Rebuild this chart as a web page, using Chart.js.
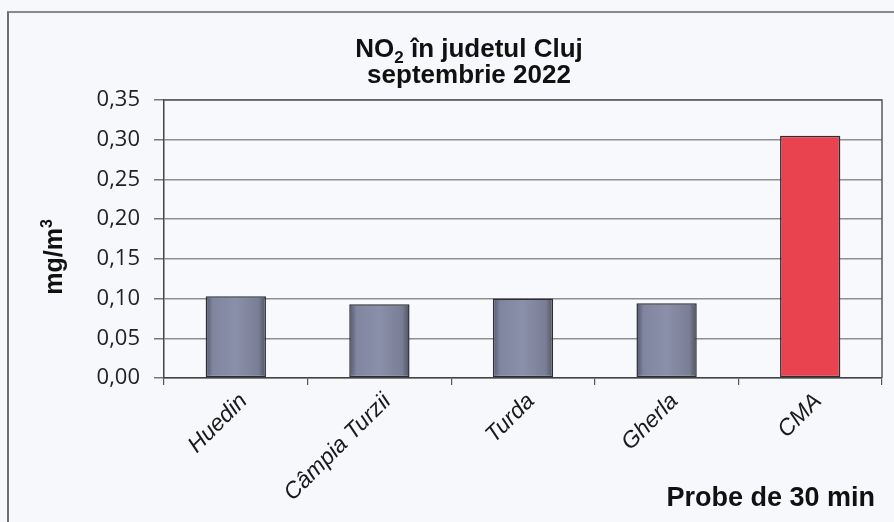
<!DOCTYPE html>
<html><head><meta charset="utf-8">
<script src="https://cdn.jsdelivr.net/npm/chart.js@4/dist/chart.umd.min.js"></script>
<style>
html,body{margin:0;padding:0;background:#f6f8fb;}
#wrap{position:relative;width:894px;height:522px;overflow:hidden;background:#f6f8fb;}
#frame{position:absolute;left:7px;top:11px;width:1000px;height:1000px;border-left:2px solid #6e6e6e;border-top:2px solid #8a8a8a;}
canvas{position:absolute;left:0;top:0;}
</style></head><body>
<div id="wrap"><div id="frame"></div><canvas id="c" width="894" height="522"></canvas></div>
<script>
// ---- data ----
const categories = ['Huedin', 'Câmpia Turzii', 'Turda', 'Gherla', 'CMA'];
const no2Values = [0.103, 0.093, 0.100, 0.094, 0.305];
const yTickValues = [0, 0.05, 0.10, 0.15, 0.20, 0.25, 0.30, 0.35];
const titleLine1 = ['NO', '2', ' în judetul Cluj'];   // '2' is subscript
const titleLine2 = 'septembrie 2022';
const yAxisTitle = ['mg/m', '3'];                       // '3' is superscript
const xAxisTitle = 'Probe de 30 min';
const highlightCategory = 'CMA';

const BAR_FRACTION = 0.42;

function barFill(ctx) {
  const chart = ctx.chart;
  const cat = categories[ctx.dataIndex];
  if (cat === highlightCategory) return '#e8434e';
  const xs = chart.scales.x;
  const area = chart.chartArea;
  const cx = xs ? xs.getPixelForValue(ctx.dataIndex) : NaN;
  if (!area || cx == null || isNaN(cx)) return '#7f849c';
  const hw = (area.right - area.left) / categories.length * BAR_FRACTION / 2;
  const g = chart.ctx.createLinearGradient(cx - hw, 0, cx + hw, 0);
  g.addColorStop(0, '#555869');
  g.addColorStop(0.12, '#8085a0');
  g.addColorStop(0.5, '#8b90aa');
  g.addColorStop(0.88, '#797d95');
  g.addColorStop(1, '#4f525f');
  return g;
}

const decor = {
  id: 'decor',
  beforeDraw(chart) {
    const { ctx, chartArea: a } = chart;
    ctx.save();
    ctx.fillStyle = '#f7f9fc';
    ctx.fillRect(a.left, a.top, a.right - a.left, a.bottom - a.top);
    ctx.restore();
  },
  afterDraw(chart) {
    const { ctx, chartArea: a } = chart;
    ctx.save();
    // plot area frame
    ctx.strokeStyle = '#5a5a5a';
    ctx.lineWidth = 1.5;
    ctx.beginPath();
    ctx.moveTo(a.left, a.top); ctx.lineTo(a.right, a.top); ctx.lineTo(a.right, a.bottom);
    ctx.stroke();

    // main title with subscript
    ctx.fillStyle = '#111';
    ctx.textBaseline = 'alphabetic';
    ctx.textAlign = 'left';
    const big = 'bold 26px "Liberation Sans", Arial, sans-serif';
    const small = 'bold 17px "Liberation Sans", Arial, sans-serif';
    ctx.font = big; const w0 = ctx.measureText(titleLine1[0]).width;
    ctx.font = small; const w1 = ctx.measureText(titleLine1[1]).width;
    ctx.font = big; const w2 = ctx.measureText(titleLine1[2]).width;
    const cx = 469;
    let x = cx - (w0 + w1 + w2) / 2;
    ctx.font = big; ctx.fillText(titleLine1[0], x, 57); x += w0;
    ctx.font = small; ctx.fillText(titleLine1[1], x, 63); x += w1;
    ctx.font = big; ctx.fillText(titleLine1[2], x, 57);
    ctx.textAlign = 'center';
    ctx.fillText(titleLine2, cx, 83);

    // y-axis title (rotated, with superscript)
    const yb = 'bold 25px "Liberation Sans", Arial, sans-serif';
    const ys = 'bold 16px "Liberation Sans", Arial, sans-serif';
    ctx.font = yb; const m0 = ctx.measureText(yAxisTitle[0]).width;
    ctx.font = ys; const m1 = ctx.measureText(yAxisTitle[1]).width;
    ctx.translate(62, 257);
    ctx.rotate(-Math.PI / 2);
    ctx.textAlign = 'left';
    let tx = -(m0 + m1) / 2;
    ctx.font = yb; ctx.fillText(yAxisTitle[0], tx, 0); tx += m0;
    ctx.font = ys; ctx.fillText(yAxisTitle[1], tx, -10);
    ctx.setTransform(1, 0, 0, 1, 0, 0);

    // x-axis title
    ctx.font = 'bold 27px "Liberation Sans", Arial, sans-serif';
    ctx.textAlign = 'right';
    ctx.fillText(xAxisTitle, a.right - 7, 506);
    ctx.restore();
  }
};

new Chart(document.getElementById('c'), {
  type: 'bar',
  data: {
    labels: categories,
    datasets: [{
      data: no2Values,
      backgroundColor: barFill,
      borderColor: '#2c2d35',
      borderWidth: 1.5,
      borderSkipped: false,
      categoryPercentage: 1.0,
      barPercentage: BAR_FRACTION
    }]
  },
  options: {
    responsive: false,
    animation: false,
    devicePixelRatio: 1,
    layout: { padding: { top: 100, right: 12, left: 0, bottom: 0 } },
    plugins: { legend: { display: false }, title: { display: false }, tooltip: { enabled: false } },
    scales: {
      x: {
        grid: { display: true, drawOnChartArea: false, drawTicks: true, tickLength: 7, color: '#555', offset: true, lineWidth: 1.2 },
        border: { display: true, color: '#444', width: 1.5 },
        ticks: {
          minRotation: 45, maxRotation: 45, autoSkip: false,
          font: { family: '"Liberation Sans", Arial, sans-serif', size: 23, style: 'italic' },
          color: '#1a1a1a', padding: 3, labelOffset: 8
        },
        afterFit(s) { s.height = 144; }
      },
      y: {
        min: 0, max: 0.35,
        afterBuildTicks(s) { s.ticks = yTickValues.map(v => ({ value: v })); },
        ticks: {
          callback: v => Number(v).toFixed(2).replace('.', ','),
          font: { family: '"Open Sans", sans-serif', size: 22 },
          color: '#222', padding: 14
        },
        grid: { color: '#8f8f8f', lineWidth: 1.5, tickLength: 10, tickColor: '#777' },
        border: { display: true, color: '#444', width: 1.5 },
        afterFit(s) { s.width = 164; }
      }
    }
  },
  plugins: [decor]
});
</script>
</body></html>
